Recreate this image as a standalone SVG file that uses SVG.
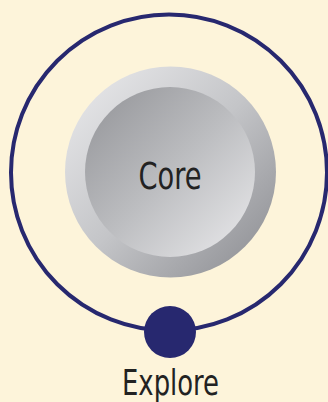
<svg xmlns="http://www.w3.org/2000/svg" width="328" height="402" viewBox="0 0 328 402">
<style>
.lbl{font-family:"DejaVu Sans Condensed","DejaVu Sans",sans-serif;fill:#222;text-anchor:middle}
</style>
<defs>
<linearGradient id="gOuter" x1="0" y1="0" x2="1" y2="1">
<stop offset="0" stop-color="#ececee"/>
<stop offset="0.5" stop-color="#c4c5c8"/>
<stop offset="1" stop-color="#88898e"/>
</linearGradient>
<linearGradient id="gInner" x1="0" y1="0" x2="1" y2="1">
<stop offset="0" stop-color="#929397"/>
<stop offset="0.5" stop-color="#bcbdc0"/>
<stop offset="1" stop-color="#ebebed"/>
</linearGradient>
</defs>
<rect width="328" height="402" fill="#fdf4da"/>
<g id="connectors">
<circle cx="169" cy="172.5" r="158" fill="none" stroke="#27286f" stroke-width="4"/>
</g>
<g id="core">
<circle cx="170.5" cy="172" r="105.5" fill="url(#gOuter)"/>
<circle cx="170" cy="172" r="85" fill="url(#gInner)"/>
<text class="lbl" x="170" y="189" font-size="38" textLength="63" lengthAdjust="spacingAndGlyphs">Core</text>
</g>
<g id="explore">
<circle cx="170" cy="332" r="26" fill="#27286f"/>
<text class="lbl" x="170.5" y="394.5" font-size="35" textLength="97" lengthAdjust="spacingAndGlyphs">Explore</text>
</g>
</svg>
